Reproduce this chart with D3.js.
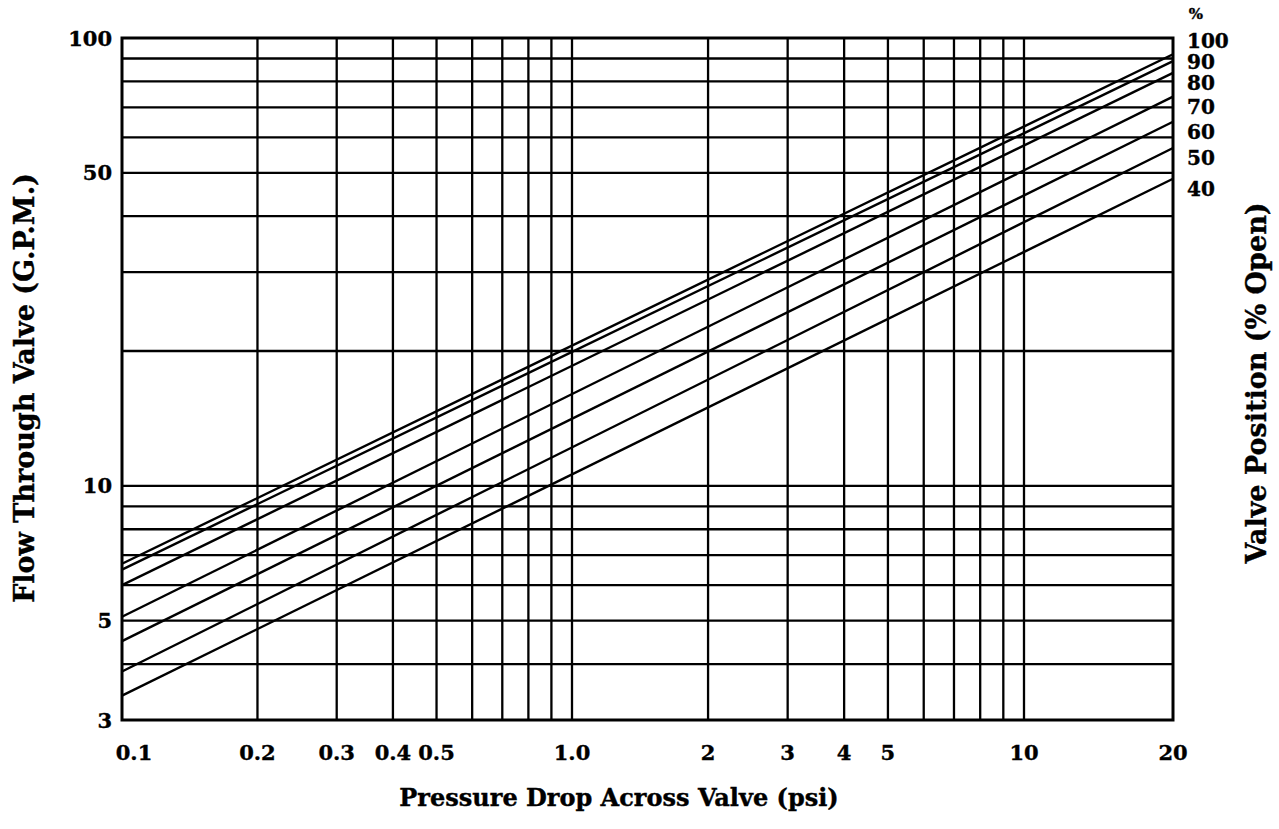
<!DOCTYPE html>
<html>
<head>
<meta charset="utf-8">
<script src="https://cdn.jsdelivr.net/npm/d3@7"></script>
<style>
  body { margin: 0; background: #fff; }
  text { font-family: "DejaVu Serif", serif; font-weight: bold; fill: #000; stroke: #000; stroke-width: 0.4px; }
</style>
</head>
<body>
<div id="canvas"></div>
<script>
// tick labels and grid values
const xTicks = [0.1, 0.2, 0.3, 0.4, 0.5, 1, 2, 3, 4, 5, 10, 20];
const xTickLabels = ["0.1", "0.2", "0.3", "0.4", "0.5", "1.0", "2", "3", "4", "5", "10", "20"];
const xGrid = [0.2, 0.3, 0.4, 0.5, 0.6, 0.7, 0.8, 0.9, 1, 2, 3, 4, 5, 6, 7, 8, 9, 10];
const yTicks = [3, 5, 10, 50, 100];
const yGrid = [4, 5, 6, 7, 8, 9, 10, 20, 30, 40, 50, 60, 70, 80, 90];

// valve curves: flow (gpm) at the two pressure ends
const valvePositions = [100, 90, 80, 70, 60, 50, 40];
const pressureEnds = [0.1, 20];
const flowLow = [6.7, 6.5, 6.0, 5.1, 4.5, 3.85, 3.4];
const flowHigh = [92, 88.8, 83.6, 74, 65, 56.8, 48.5];

const width = 1279;
const height = 829;

const svg = d3.select("#canvas").append("svg")
    .attr("width", width)
    .attr("height", height);

// the paper scale is a bit stretched in the last (10-20) decade
const x = d3.scaleLog()
    .domain([0.1, 1, 10, 20])
    .range([122, 572, 1024, 1173]);

const y = d3.scaleLog()
    .domain([3, 100])
    .range([720, 38]);

// grid
svg.append("g").selectAll("line").data(xGrid).join("line")
    .attr("x1", d => x(d)).attr("x2", d => x(d))
    .attr("y1", y(100)).attr("y2", y(3))
    .attr("stroke", "#000").attr("stroke-width", 2.3);

svg.append("g").selectAll("line").data(yGrid).join("line")
    .attr("x1", x(0.1)).attr("x2", x(20))
    .attr("y1", d => y(d)).attr("y2", d => y(d))
    .attr("stroke", "#000").attr("stroke-width", 2.3);

svg.append("rect")
    .attr("x", x(0.1)).attr("y", y(100))
    .attr("width", x(20) - x(0.1)).attr("height", y(3) - y(100))
    .attr("fill", "none").attr("stroke", "#000").attr("stroke-width", 3);

// valve lines
const line = d3.line().x(d => x(d[0])).y(d => y(d[1]));
const curves = valvePositions.map((p, i) => ({
    pos: p,
    pts: [[pressureEnds[0], flowLow[i]], [pressureEnds[1], flowHigh[i]]]
}));

svg.append("g").selectAll("path").data(curves).join("path")
    .attr("d", d => line(d.pts))
    .attr("fill", "none")
    .attr("stroke", "#000")
    .attr("stroke-width", 2.4);

// x tick labels
svg.append("g").selectAll("text").data(xTicks).join("text")
    .attr("x", (d, i) => x(d) + (i === 0 ? 12 : 0))
    .attr("y", 752)
    .attr("text-anchor", "middle")
    .attr("dominant-baseline", "central")
    .style("font-size", "21px")
    .text((d, i) => xTickLabels[i]);

// y tick labels
svg.append("g").selectAll("text").data(yTicks).join("text")
    .attr("x", 112)
    .attr("y", d => y(d))
    .attr("text-anchor", "end")
    .attr("dominant-baseline", "central")
    .style("font-size", "21px")
    .text(d => d);

// right labels, pushed apart so they do not overlap
const labelY = curves.map(c => y(c.pts[1][1]) + 10);
for (let i = labelY.length - 2; i >= 0; i--) {
    labelY[i] = Math.min(labelY[i], labelY[i + 1] - 21);
}
svg.append("g").selectAll("text").data(curves).join("text")
    .attr("x", 1187)
    .attr("y", (d, i) => labelY[i])
    .attr("dominant-baseline", "central")
    .style("font-size", "20px")
    .text(d => d.pos);

svg.append("text")
    .attr("x", 1196).attr("y", 14)
    .attr("text-anchor", "middle")
    .attr("dominant-baseline", "central")
    .style("font-size", "15px")
    .text("%");

// axis titles
svg.append("text")
    .attr("x", 619).attr("y", 797)
    .attr("text-anchor", "middle")
    .attr("dominant-baseline", "central")
    .style("font-size", "24px")
    .text("Pressure Drop Across Valve (psi)");

svg.append("text")
    .attr("transform", "translate(24,388) rotate(-90)")
    .attr("text-anchor", "middle")
    .attr("dominant-baseline", "central")
    .style("font-size", "27px")
    .text("Flow Through Valve (G.P.M.)");

svg.append("text")
    .attr("transform", "translate(1256,383) rotate(-90)")
    .attr("text-anchor", "middle")
    .attr("dominant-baseline", "central")
    .style("font-size", "27px")
    .text("Valve Position (% Open)");
</script>
</body>
</html>
